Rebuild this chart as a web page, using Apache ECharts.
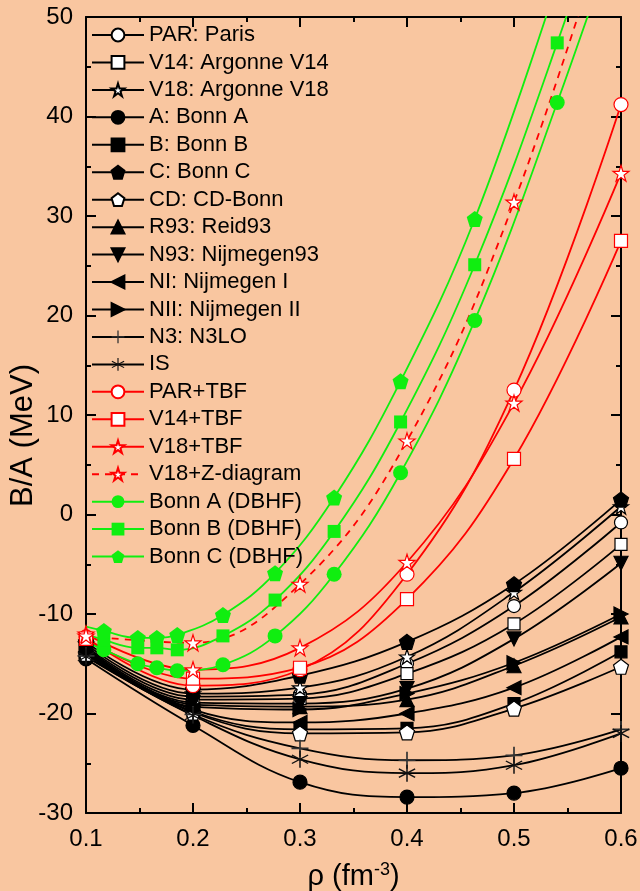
<!DOCTYPE html>
<html>
<head>
<meta charset="utf-8">
<script src="https://cdn.jsdelivr.net/npm/echarts@6/dist/echarts.min.js"></script>
<style>
html, body { margin: 0; padding: 0; background: #F9C6A0; }
#chart { width: 640px; height: 891px; }
</style>
</head>
<body>
<div id="chart"></div>
<script>
// densities (fm^-3): BHF grid and DBHF grid (kF = 1.1 ... 2.1 fm^-1)
const rhoBHF = [0.1, 0.2, 0.3, 0.4, 0.5, 0.6];
const rhoDBHF = [0.0899, 0.1167, 0.1484, 0.1662, 0.1853, 0.2280, 0.2767, 0.3319, 0.3940, 0.4633, 0.5404, 0.6255];

// BHF, two-body forces only (MeV)
const parVals  = [-13.2, -18.3, -18.1, -15.0,  -9.2,  -0.8];
const v14Vals  = [-13.3, -18.6, -18.5, -16.0, -11.0,  -3.0];
const v18Vals  = [-13.0, -18.0, -17.4, -14.3,  -7.8,   0.8];
const aVals    = [-14.5, -21.2, -26.9, -28.4, -28.0, -25.5];
const bVals    = [-13.9, -19.8, -21.6, -21.5, -19.0, -13.8];
const cVals    = [-12.8, -17.6, -16.2, -12.8,  -7.0,   1.5];
const cdVals   = [-14.0, -19.9, -22.0, -21.9, -19.5, -15.3];
const r93Vals  = [-13.5, -19.1, -19.3, -18.6, -15.2, -10.3];
const n93Vals  = [-13.4, -18.9, -19.0, -17.5, -12.5,  -4.9];
const n1Vals   = [-13.8, -19.6, -20.9, -20.0, -17.4, -12.3];
const n2Vals   = [-13.6, -19.3, -19.6, -18.0, -14.9, -10.0];
const n3Vals   = [-14.2, -20.1, -23.5, -24.7, -24.2, -21.6];
const isVals   = [-14.3, -20.2, -24.6, -26.0, -25.2, -22.0];

// BHF with three-body forces
const parTbfVals = [-12.3, -17.2, -15.6,  -6.0, 12.5, 41.2];
const v14TbfVals = [-12.5, -16.5, -15.4,  -8.5,  5.6, 27.5];
const v18TbfVals = [-12.0, -15.6, -13.4,  -4.8, 11.2, 34.3];
const v18ZVals   = [-12.2, -12.9,  -7.0,   7.4, 31.4, 64.0];

// DBHF
const bonnADbhf = [-12.3, -13.6, -15.0, -15.4, -15.7, -15.1, -12.2, -6.0,  4.2, 19.5, 41.4, 68.0];
const bonnBDbhf = [-11.6, -12.6, -13.4, -13.4, -13.6, -12.2,  -8.6, -1.7,  9.3, 25.1, 47.4, 75.0];
const bonnCDbhf = [-11.0, -11.7, -12.4, -12.4, -12.1, -10.1,  -5.9,  1.7, 13.4, 29.7, 53.5];

const xTicks = [0.1, 0.2, 0.3, 0.4, 0.5, 0.6];
const yTicks = [-30, -20, -10, 0, 10, 20, 30, 40, 50];

const STAR = 'path://M50,0 L61.23,34.55 L97.55,34.55 L68.17,55.9 L79.39,90.45 L50,69.1 L20.61,90.45 L31.83,55.9 L2.45,34.55 L38.77,34.55 Z';
const PENT = 'path://M50,0 L97.55,34.55 L79.39,90.45 L20.61,90.45 L2.45,34.55 Z';
const TRI_DOWN = 'path://M0,0 L10,0 L5,9 Z';
const TRI_LEFT = 'path://M9,0 L9,10 L0,5 Z';
const TRI_RIGHT = 'path://M0,0 L9,5 L0,10 Z';
const PLUS = 'path://M9,0 L11,0 L11,9 L20,9 L20,11 L11,11 L11,20 L9,20 L9,11 L0,11 L0,9 L9,9 Z';
const ASTER = 'path://M46,0 L54,0 L54,100 L46,100 Z M4.7,28.46 L8.7,21.54 L95.3,71.54 L91.3,78.46 Z M8.7,78.46 L4.7,71.54 L91.3,21.54 L95.3,28.46 Z';

const GREEN = '#10EE10';
const RED = '#FF0000';
const FONT = 'Liberation Sans';

function mk(name, xs, ys, o) {
    return {
        name: name,
        type: 'line',
        smooth: 0.4,
        clip: true,
        data: ys.map((v, i) => [xs[i], v]),
        symbol: o.symbol,
        symbolSize: o.size || 13,
        lineStyle: { color: o.line, width: 1.8, type: o.dash ? [7, 6] : 'solid' },
        itemStyle: {
            color: o.fill,
            borderColor: o.border || o.line,
            borderWidth: o.bw === undefined ? 1.2 : o.bw
        },
        emphasis: { disabled: true }
    };
}

const series = [
    mk('PAR: Paris', rhoBHF, parVals, { symbol: 'circle', fill: '#fff', line: '#000' }),
    mk('V14: Argonne V14', rhoBHF, v14Vals, { symbol: 'rect', size: 12, fill: '#fff', line: '#000' }),
    mk('V18: Argonne V18', rhoBHF, v18Vals, { symbol: STAR, size: 15, fill: '#fff', line: '#000' }),
    mk('A: Bonn A', rhoBHF, aVals, { symbol: 'circle', size: 14, fill: '#000', line: '#000' }),
    mk('B: Bonn B', rhoBHF, bVals, { symbol: 'rect', size: 12, fill: '#000', line: '#000' }),
    mk('C: Bonn C', rhoBHF, cVals, { symbol: PENT, size: 15, fill: '#000', line: '#000' }),
    mk('CD: CD-Bonn', rhoBHF, cdVals, { symbol: PENT, size: 15, fill: '#fff', line: '#000' }),
    mk('R93: Reid93', rhoBHF, r93Vals, { symbol: 'triangle', size: 14, fill: '#000', line: '#000' }),
    mk('N93: Nijmegen93', rhoBHF, n93Vals, { symbol: TRI_DOWN, size: 14, fill: '#000', line: '#000' }),
    mk('NI: Nijmegen I', rhoBHF, n1Vals, { symbol: TRI_LEFT, size: 14, fill: '#000', line: '#000' }),
    mk('NII: Nijmegen II', rhoBHF, n2Vals, { symbol: TRI_RIGHT, size: 14, fill: '#000', line: '#000' }),
    mk('N3: N3LO', rhoBHF, n3Vals, { symbol: PLUS, size: 17, fill: '#333', line: '#000', bw: 0 }),
    mk('IS', rhoBHF, isVals, { symbol: ASTER, size: 17, fill: '#111', line: '#000', bw: 0 }),
    mk('PAR+TBF', rhoBHF, parTbfVals, { symbol: 'circle', size: 14, fill: '#fff', line: RED }),
    mk('V14+TBF', rhoBHF, v14TbfVals, { symbol: 'rect', size: 13, fill: '#fff', line: RED }),
    mk('V18+TBF', rhoBHF, v18TbfVals, { symbol: STAR, size: 16, fill: '#fff', line: RED }),
    mk('V18+Z-diagram', rhoBHF, v18ZVals, { symbol: STAR, size: 16, fill: '#fff', line: RED, dash: true }),
    mk('Bonn A (DBHF)', rhoDBHF, bonnADbhf, { symbol: 'circle', size: 15, fill: GREEN, line: GREEN, bw: 0 }),
    mk('Bonn B (DBHF)', rhoDBHF, bonnBDbhf, { symbol: 'rect', size: 13, fill: GREEN, line: GREEN, bw: 0 }),
    mk('Bonn C (DBHF)', rhoDBHF, bonnCDbhf, { symbol: PENT, size: 16, fill: GREEN, line: GREEN, bw: 0 })
];

const axisLine = { show: true, onZero: false, lineStyle: { color: '#000', width: 2 } };
const tick = { show: true, inside: true, length: 10, lineStyle: { color: '#000', width: 2 } };
const minor = { show: true, splitNumber: 2, length: 5, lineStyle: { color: '#000', width: 2 } };

const chart = echarts.init(document.getElementById('chart'));
chart.setOption({
    animation: false,
    backgroundColor: '#F9C6A0',
    grid: { left: 86, right: 19, top: 17, bottom: 78, outerBoundsMode: 'none', containLabel: false },
    legend: {
        orient: 'vertical',
        left: 86,
        top: 19,
        itemWidth: 52,
        itemHeight: 16,
        itemGap: 5.45,
        selectedMode: false,
        textStyle: { fontFamily: FONT, fontSize: 22, lineHeight: 22, color: '#000' },
        data: series.map(s => s.name)
    },
    xAxis: [{
        type: 'value',
        min: xTicks[0],
        max: xTicks[xTicks.length - 1],
        interval: 0.1,
        name: '{a|ρ (fm}{s|-3}{a|)}',
        nameLocation: 'middle',
        nameGap: 48,
        nameTextStyle: {
            rich: {
                a: { fontFamily: FONT, fontSize: 29, lineHeight: 32, color: '#000' },
                s: { fontFamily: FONT, fontSize: 18, lineHeight: 18, verticalAlign: 'top', color: '#000' }
            }
        },
        axisLine: axisLine,
        axisTick: tick,
        minorTick: minor,
        splitLine: { show: false },
        axisLabel: {
            fontFamily: FONT, fontSize: 24, color: '#000', margin: 14,
            formatter: v => v.toFixed(1)
        }
    }, {
        type: 'value',
        position: 'top',
        min: xTicks[0],
        max: xTicks[xTicks.length - 1],
        interval: 0.1,
        axisLine: axisLine,
        axisTick: tick,
        minorTick: minor,
        splitLine: { show: false },
        axisLabel: { show: false }
    }],
    yAxis: [{
        type: 'value',
        min: yTicks[0],
        max: yTicks[yTicks.length - 1],
        interval: 10,
        name: 'B/A (MeV)',
        nameLocation: 'middle',
        nameGap: 47,
        nameMoveOverlap: false,
        nameTextStyle: { fontFamily: FONT, fontSize: 31, color: '#000', padding: [0, 41, 0, 0] },
        axisLine: axisLine,
        axisTick: tick,
        minorTick: minor,
        splitLine: { show: false },
        axisLabel: { fontFamily: FONT, fontSize: 24, color: '#000', margin: 13 }
    }, {
        type: 'value',
        position: 'right',
        min: yTicks[0],
        max: yTicks[yTicks.length - 1],
        interval: 10,
        axisLine: axisLine,
        axisTick: tick,
        minorTick: minor,
        splitLine: { show: false },
        axisLabel: { show: false }
    }],
    series: series
});
</script>
</body>
</html>
